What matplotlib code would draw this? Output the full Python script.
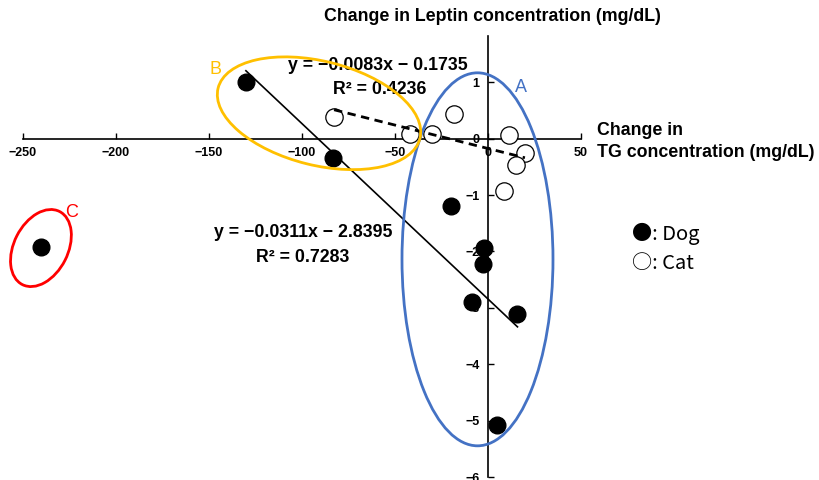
import numpy as np
import matplotlib.pyplot as plt
from matplotlib.patches import Ellipse
from matplotlib import transforms

# Data
dog_x = [-130, -83, -240, -20, -2, -2.5, -8.5, 16, 5]
dog_y = [1.01, -0.34, -1.93, -1.2, -1.94, -2.23, -2.9, -3.11, -5.07]
cat_x = [-82.6, -18, -42, -30, 11.5, 20, 15.3, 8.8]
cat_y = [0.39, 0.44, 0.09, 0.09, 0.07, -0.25, -0.46, -0.92]

dog_fit = (-0.0311, -2.8395, 0.7283)
cat_fit = (-0.0083, -0.1735, 0.4236)

x_ticks = [-250, -200, -150, -100, -50, 0, 50]
y_ticks = [1, 0, -1, -2, -3, -4, -5, -6]

# Group circles: label, colour, centre (data), width/height (inches), angle
groups = [
    ('A', '#4472C4', (-5.5, -2.14), 1.51, 3.73, 0, (18, 0.9)),
    ('B', '#FFC000', (-90.7, 0.45), 2.08, 1.04, -14, (-146.5, 1.22)),
    ('C', '#FF0000', (-240.2, -1.94), 0.82, 0.54, 63, (-224, -1.31)),
]

plt.rcParams['font.family'] = ['Liberation Sans', 'DejaVu Sans']

fig = plt.figure(figsize=(8.2, 4.8), dpi=100)
ax = fig.add_axes([0.0277, 0.00625, 0.6805, 0.91875])
ax.set_xlim(-250, 50)
ax.set_ylim(-6, 1.82)

# Axes crossing at the origin
ax.spines['left'].set_position(('data', 0))
ax.spines['bottom'].set_position(('data', 0))
ax.spines['top'].set_visible(False)
ax.spines['right'].set_visible(False)
ax.spines['left'].set_linewidth(1.2)
ax.spines['bottom'].set_linewidth(1.2)
ax.set_xticks(x_ticks)
ax.set_yticks(y_ticks)
ax.set_xticklabels(['\u2212%d' % -t if t < 0 else str(t) for t in x_ticks])
ax.set_yticklabels(['\u2212%d' % -t if t < 0 else str(t) for t in y_ticks])
ax.tick_params(axis='both', direction='in', length=4, width=1, labelsize=9, pad=6)
for lab in ax.get_xticklabels() + ax.get_yticklabels():
    lab.set_fontweight('bold')

# Points
ax.plot(dog_x, dog_y, 'o', color='black', markersize=12, zorder=3)
ax.plot(cat_x, cat_y, 'o', markerfacecolor='white', markeredgecolor='black',
        markeredgewidth=0.9, markersize=12.5, zorder=3)

# Trend lines
fit_dog_x = [v for v in dog_x if v > -200]
xs = np.array([min(fit_dog_x), max(fit_dog_x)])
ax.plot(xs, dog_fit[0] * xs + dog_fit[1], color='black', linewidth=1.2, zorder=4)
xs = np.array([min(cat_x), max(cat_x)])
ax.plot(xs, cat_fit[0] * xs + cat_fit[1], color='black', linewidth=2,
        dashes=(3, 2), zorder=4)

# Equations
ax.text(-59, 1.29, 'y = \u22120.0083x \u2212 0.1735', ha='center', va='center',
        fontsize=12.8, fontweight='bold')
ax.text(-58, 0.87, 'R\u00b2 = 0.4236', ha='center', va='center',
        fontsize=12.8, fontweight='bold')
ax.text(-99.3, -1.67, 'y = \u22120.0311x \u2212 2.8395', ha='center', va='center',
        fontsize=12.8, fontweight='bold')
ax.text(-99.3, -2.11, 'R\u00b2 = 0.7283', ha='center', va='center',
        fontsize=12.8, fontweight='bold')

# Group ellipses
for name, col, centre, w, h, ang, lab_pos in groups:
    tr = fig.dpi_scale_trans + transforms.ScaledTranslation(centre[0], centre[1], ax.transData)
    ax.add_patch(Ellipse((0, 0), w, h, angle=ang, fill=False, edgecolor=col,
                         linewidth=2, transform=tr, zorder=5, clip_on=False))
    ax.text(lab_pos[0], lab_pos[1], name, color=col, fontsize=13,
            ha='center', va='center')

# Axis titles
fig.text(0.601, 0.965, 'Change in Leptin concentration (mg/dL)', ha='center',
         va='center', fontsize=12.8, fontweight='bold')
fig.text(0.728, 0.729, 'Change in', ha='left', va='center',
         fontsize=12.8, fontweight='bold')
fig.text(0.728, 0.683, 'TG concentration (mg/dL)', ha='left', va='center',
         fontsize=12.8, fontweight='bold')

# Legend
fig.text(0.771, 0.513, '\u25cf: Dog', ha='left', va='center', fontsize=14.5,
         family=['Noto Sans CJK JP', 'DejaVu Sans'])
fig.text(0.771, 0.452, '\u25cb: Cat', ha='left', va='center', fontsize=14.5,
         family=['Noto Sans CJK JP', 'DejaVu Sans'])

plt.savefig('out.png', dpi=100)
